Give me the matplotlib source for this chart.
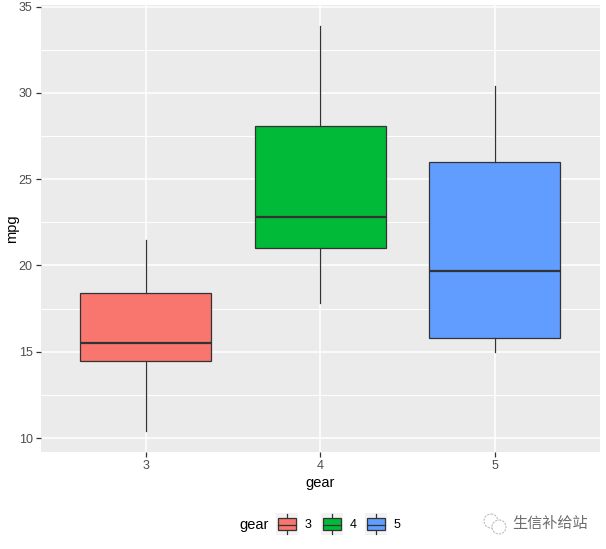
import matplotlib
matplotlib.use("Agg")
import matplotlib.pyplot as plt
from matplotlib.patches import Rectangle, Circle

plt.rcParams['font.family'] = ['Liberation Sans', 'Noto Sans CJK SC', 'DejaVu Sans']

W, H = 606, 549
gears = [3, 4, 5]
low_whisker = [10.4, 17.8, 15.0]
q1 = [14.45, 21.0, 15.8]
median = [15.5, 22.8, 19.7]
q3 = [18.4, 28.1, 26.0]
high_whisker = [21.5, 33.9, 30.4]
fill_colors = ['#F8766D', '#00BA38', '#619CFF']
y_ticks = [10, 15, 20, 25, 30, 35]
y_minor = [12.5, 17.5, 22.5, 27.5, 32.5]
DARK = '#333333'

fig = plt.figure(figsize=(W / 100, H / 100), dpi=100)
L, R, T, B = 41, 599.5, 5, 452
ax = fig.add_axes([L / W, 1 - B / H, (R - L) / W, (B - T) / H])
ax.set_facecolor('#EBEBEB')
for s in ax.spines.values():
    s.set_visible(False)
ax.set_xlim(2.4, 5.6)
ax.set_ylim(9.19, 35.09)
ax.set_axisbelow(True)
ax.set_xticks(gears)
ax.set_xticklabels([str(g) for g in gears])
ax.set_yticks(y_ticks)
ax.set_yticks(y_minor, minor=True)
ax.grid(True, which='major', color='white', lw=1.1)
ax.grid(True, which='minor', axis='y', color='white', lw=0.7)
ax.tick_params(axis='both', which='major', length=3.5, width=0.9, color=DARK,
               labelcolor='#4D4D4D', labelsize=9, pad=2.5)
ax.tick_params(axis='y', which='minor', length=0)

stats = [dict(whislo=a, q1=b, med=c, q3=d, whishi=e, label=str(g))
         for a, b, c, d, e, g in zip(low_whisker, q1, median, q3, high_whisker, gears)]
bp = ax.bxp(stats, positions=gears, widths=0.75, patch_artist=True, showcaps=False,
            showfliers=False, manage_ticks=False,
            boxprops=dict(edgecolor=DARK, linewidth=0.9),
            whiskerprops=dict(color=DARK, linewidth=0.9),
            medianprops=dict(color=DARK, linewidth=1.6, solid_capstyle='butt'))
for box, c in zip(bp['boxes'], fill_colors):
    box.set_facecolor(c)

ax.set_xlabel('gear', fontsize=10.5, color='black', labelpad=3)
ax.set_ylabel('mpg', fontsize=10.5, color='black', labelpad=0)

# overlay in pixel coordinates for legend and watermark
ov = fig.add_axes([0, 0, 1, 1])
ov.set_xlim(0, W)
ov.set_ylim(H, 0)
ov.axis('off')
ov.patch.set_alpha(0)
ov.text(239, 525, 'gear', fontsize=10.5, va='center', ha='left', color='black')
for g, c, x0 in zip(gears, fill_colors, [276, 321, 365]):
    ov.add_patch(Rectangle((x0, 513), 22, 22, fc='#F2F2F2', ec='none'))
    xm = x0 + 11
    ov.plot([xm, xm], [514, 534], color=DARK, lw=0.9, zorder=2)
    ov.add_patch(Rectangle((x0 + 2, 518), 18, 12, fc=c, ec=DARK, lw=0.9, zorder=3))
    ov.plot([x0 + 2, x0 + 20], [524.5, 524.5], color=DARK, lw=0.9, zorder=4)
    ov.text(x0 + 29, 525, str(g), fontsize=9, va='center', ha='left', color='black')

# watermark
for (cx, cy, r) in [(491, 521, 7), (499, 527, 7)]:
    ov.add_patch(Circle((cx, cy), r, fc='white', ec='#BDBDBD', lw=0.8, ls=(0, (2, 1))))
ov.text(512, 523, '生信补给站', fontsize=10.9, va='center', ha='left',
        color='#6E6E6E', family=['Noto Sans CJK SC', 'DejaVu Sans'])

fig.savefig('out.png', dpi=100)
